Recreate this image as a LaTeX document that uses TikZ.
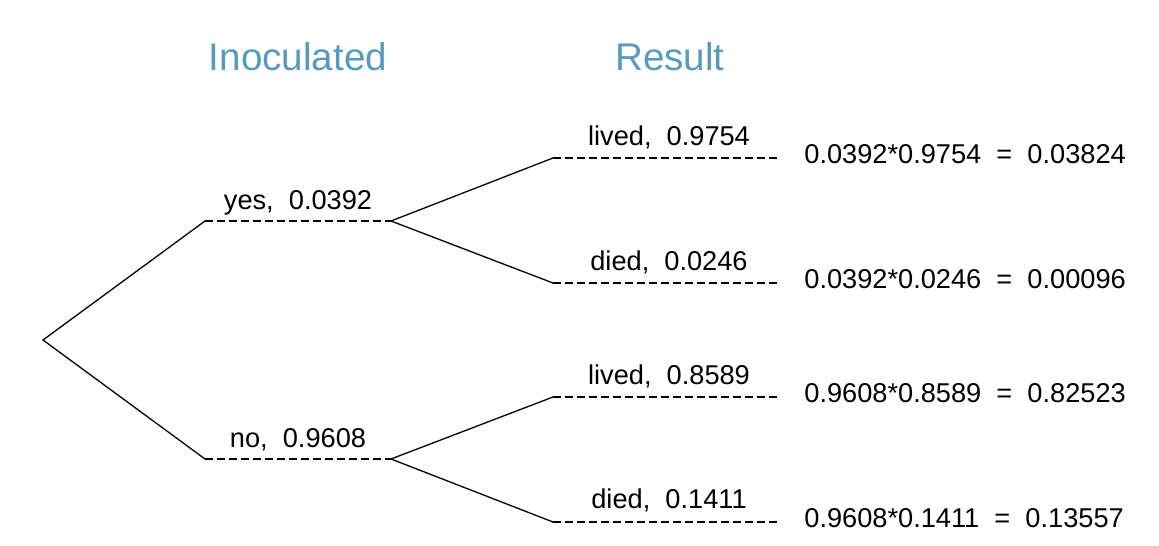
\documentclass[tikz,border=0pt]{standalone}
\usepackage{fontspec}
\setmainfont{Liberation Sans}
\definecolor{oiblue}{HTML}{569BBD}
\tikzset{
branch/.style={line width=0.65pt},
leaf/.style={line width=0.65pt, dash pattern=on 4pt off 2pt},
prob/.style={font=\fontsize{13.6}{16}\selectfont, anchor=base, inner sep=0pt},
outcome/.style={prob, anchor=base west},
heading/.style={font=\fontsize{19.3}{23}\selectfont, text=oiblue, anchor=base, inner sep=0pt}
}
\begin{document}
\begin{tikzpicture}[x=0.5pt,y=-0.5pt]
\useasboundingbox (0,0) rectangle (1159,545);
\node[heading] (inoc) at (298,71) {Inoculated};
\node[heading] (result) at (670,71) {Result};
\coordinate (root) at (43,340);
\coordinate (yesA) at (205,221);
\coordinate (yesB) at (391,221);
\coordinate (noA) at (205,459);
\coordinate (noB) at (391,459);
\coordinate (ylA) at (553,158);
\coordinate (ylB) at (780,158);
\coordinate (ydA) at (553,283);
\coordinate (ydB) at (780,283);
\coordinate (nlA) at (553,397);
\coordinate (nlB) at (780,397);
\coordinate (ndA) at (553,522);
\coordinate (ndB) at (780,522);
\draw[branch] (yesA)--(root)--(noA);
\draw[leaf] (yesA)--(yesB);
\draw[leaf] (noA)--(noB);
\draw[branch] (ylA)--(yesB)--(ydA);
\draw[branch] (nlA)--(noB)--(ndA);
\draw[leaf] (ylA)--(ylB);
\draw[leaf] (ydA)--(ydB);
\draw[leaf] (nlA)--(nlB);
\draw[leaf] (ndA)--(ndB);
\node[prob] (yes) at (298,209) {yes,\ \ 0.0392};
\node[prob] (no) at (298,447) {no,\ \ 0.9608};
\node[prob] (yl) at (669,146) {lived,\ \ 0.9754};
\node[prob] (yd) at (669,270) {died,\ \ 0.0246};
\node[prob] (nl) at (669,384) {lived,\ \ 0.8589};
\node[prob] (nd) at (669,508) {died,\ \ 0.1411};
\node[outcome] (ylr) at (804,163) {0.0392*0.9754\ \ =\ \ 0.03824};
\node[outcome] (ydr) at (804,288) {0.0392*0.0246\ \ =\ \ 0.00096};
\node[outcome] (nlr) at (804,402) {0.9608*0.8589\ \ =\ \ 0.82523};
\node[outcome] (ndr) at (804,527) {0.9608*0.1411\ \ =\ \ 0.13557};
\end{tikzpicture}
\end{document}
